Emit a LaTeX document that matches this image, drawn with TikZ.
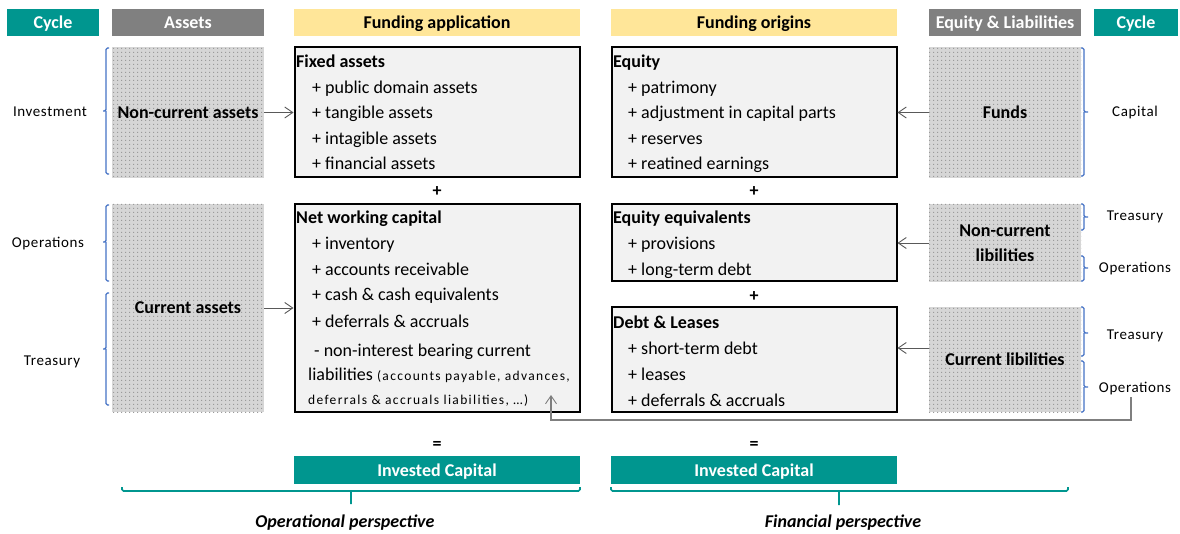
\documentclass[tikz,border=0pt]{standalone}
\usepackage{fontspec}
\setmainfont{Carlito}
\usetikzlibrary{patterns.meta,arrows.meta}

\definecolor{cycteal}{RGB}{0,150,143}
\definecolor{hdrgrey}{RGB}{128,128,128}
\definecolor{hdryellow}{RGB}{255,230,153}
\definecolor{boxfill}{RGB}{242,242,242}
\definecolor{dotbg}{RGB}{214,214,214}
\definecolor{dotfg}{RGB}{155,155,155}
\definecolor{bracblue}{RGB}{68,114,196}
\definecolor{arrgrey}{RGB}{89,89,89}
\definecolor{elbgrey}{RGB}{127,127,127}

% fine dot raster for the balance-sheet blocks
\tikzdeclarepattern{
  name=finedots,
  type=uncolored,
  bottom left={(0pt,0pt)},
  top right={(4pt,4pt)},
  tile size={(4pt,4pt)},
  code={\pgfpathrectangle{\pgfpoint{1.5pt}{1.5pt}}{\pgfpoint{1pt}{1pt}}\pgfusepath{fill}}
}

\newcommand\mainsize{\fontsize{18}{21}\selectfont}
\newcommand\notesize{\fontsize{13.5}{16}\selectfont\addfontfeatures{LetterSpace=10}}

\tikzset{
  hdr/.style={inner sep=0pt, minimum height=27pt, text height=13pt, text depth=1pt, font=\mainsize\bfseries},
  hdrteal/.style={hdr, fill=cycteal, text=white},
  hdrgray/.style={hdr, fill=hdrgrey, text=white},
  hdrgold/.style={hdr, fill=hdryellow, text=black},
  dotblock/.style={inner sep=0pt, preaction={fill=dotbg}, pattern=finedots, pattern color=dotfg,
    align=center, font=\mainsize\bfseries},
  fundbox/.style={draw=black, line width=2pt, fill=boxfill, inner sep=0pt, minimum width=285pt},
  title/.style={anchor=west, inner sep=0pt, text height=13pt, text depth=1pt, font=\mainsize\bfseries},
  item/.style={anchor=west, inner sep=0pt, text height=13pt, text depth=1pt, font=\mainsize},
  note/.style={font=\notesize},
  cyc/.style={inner sep=1pt, text height=11pt, text depth=1pt, font=\fontsize{15}{18}\selectfont\addfontfeatures{LetterSpace=4}},
  op/.style={inner sep=0pt, font=\mainsize\bfseries},
  brc/.style={draw=bracblue, line width=1.1pt, rounded corners=1.5pt},
  tbrc/.style={draw=cycteal, line width=1.6pt, rounded corners=1.5pt},
  arr/.style={draw=arrgrey, line width=0.9pt, -{Straight Barb[length=8pt,width=11pt]}},
  elbow/.style={draw=elbgrey, line width=1.6pt, -{Straight Barb[length=8pt,width=11pt,line width=0.9pt]}},
  persp/.style={inner sep=0pt, text height=13pt, text depth=1pt, font=\mainsize\bfseries\itshape},
}

\begin{document}
\begin{tikzpicture}[x=1pt,y=-1pt]
\useasboundingbox (0,0) rectangle (1180,534);

% column headers
\node[hdrteal, minimum width=92pt]  (hcl) at (53,22.5)    {Cycle};
\node[hdrgray, minimum width=152pt] (has) at (188,22.5)   {Assets};
\node[hdrgold, minimum width=286pt] (hfa) at (437,22.5)   {Funding application};
\node[hdrgold, minimum width=286pt] (hfo) at (754,22.5)   {Funding origins};
\node[hdrgray, minimum width=152pt] (hel) at (1005,22.5)  {Equity \& Liabilities};
\node[hdrteal, minimum width=84pt]  (hcr) at (1136,22.5)  {Cycle};

% asset blocks
\node[dotblock, minimum width=152pt, minimum height=131pt] (nca) at (188,112.5) {Non-current assets};
\node[dotblock, minimum width=152pt, minimum height=208pt] (ca)  at (188,308)   {Current assets};

% equity and liability blocks
\node[dotblock, minimum width=152pt, minimum height=131pt] (fund) at (1005,112.5) {Funds};
\node[dotblock, minimum width=152pt, minimum height=78pt]  (ncl)  at (1005,243)   {Non-current\\[4pt]libilities};
\node[dotblock, minimum width=152pt, minimum height=105pt] (cl)   at (1005,359.5) {Current libilities};

% funding application
\node[fundbox, minimum height=130pt] (fa)  at (437,112.5) {};
\node[fundbox, minimum height=207pt] (nwc) at (437,308)   {};
% funding origins
\node[fundbox, minimum height=130pt] (eq)  at (754,112.5) {};
\node[fundbox, minimum height=77pt]  (eqe) at (754,243)   {};
\node[fundbox, minimum height=104pt] (dl)  at (754,359.5) {};

% fixed assets
\node[title] (faT) at (296,62)  {Fixed assets};
\node[item]  (fa1) at (312,88)  {+ public domain assets};
\node[item]  (fa2) at (312,113) {+ tangible assets};
\node[item]  (fa3) at (312,139) {+ intagible assets};
\node[item]  (fa4) at (312,164) {+ financial assets};

% net working capital
\node[title] (nwT) at (296,218) {Net working capital};
\node[item]  (nw1) at (312,244) {+ inventory};
\node[item]  (nw2) at (312,270) {+ accounts receivable};
\node[item]  (nw3) at (312,295) {+ cash \& cash equivalents};
\node[item]  (nw4) at (312,322) {+ deferrals \& accruals};
\node[item]  (nw5) at (314,350) {- non-interest bearing current};
\node[item]  (nw6) at (308,375) {liabilities {\notesize(accounts payable, advances,}};
\node[item, note] (nw7) at (308,398) {deferrals \& accruals liabilities, …)};

% equity
\node[title] (eqT) at (613,62)  {Equity};
\node[item]  (eq1) at (628,88)  {+ patrimony};
\node[item]  (eq2) at (628,113) {+ adjustment in capital parts};
\node[item]  (eq3) at (628,139) {+ reserves};
\node[item]  (eq4) at (628,164) {+ reatined earnings};

% equity equivalents
\node[title] (eeT) at (613,218) {Equity equivalents};
\node[item]  (ee1) at (628,244) {+ provisions};
\node[item]  (ee2) at (628,270) {+ long-term debt};

% debt and leases
\node[title] (dlT) at (613,323) {Debt \& Leases};
\node[item]  (dl1) at (628,348) {+ short-term debt};
\node[item]  (dl2) at (628,374) {+ leases};
\node[item]  (dl3) at (628,400) {+ deferrals \& accruals};

% operators between the blocks
\node[op] (pl1) at (437,192) {+};
\node[op] (pl2) at (754,192) {+};
\node[op] (pl3) at (754,297) {+};
\node[op] (eq5) at (437,445) {=};
\node[op] (eq6) at (754,445) {=};

% totals
\node[hdrteal, minimum width=286pt, minimum height=28pt] (ic1) at (437,470) {Invested Capital};
\node[hdrteal, minimum width=286pt, minimum height=28pt] (ic2) at (754,470) {Invested Capital};

% cycle labels, left
\node[cyc] (cyInv) at (50,112)  {Investment};
\node[cyc] (cyOp)  at (48,243)  {Operations};
\node[cyc] (cyTr)  at (52,361)  {Treasury};
% cycle labels, right
\node[cyc] (cyCap) at (1135,112) {Capital};
\node[cyc] (cyTr1) at (1135,216) {Treasury};
\node[cyc] (cyOp1) at (1135,268) {Operations};
\node[cyc] (cyTr2) at (1135,335) {Treasury};
\node[cyc] (cyOp2) at (1135,387) {Operations};

% brackets, left
\draw[brc] (109,48) -| (106,111) -- (103,111) (106,111) |- (109,174);
\draw[brc] (109,205) -| (106,242) -- (103,242) (106,242) |- (109,281);
\draw[brc] (109,293) -| (106,349) -- (103,349) (106,349) |- (109,405);
% brackets, right
\draw[brc] (1081,48) -| (1084,112) -- (1088,112) (1084,112) |- (1081,176);
\draw[brc] (1081,204) -| (1084,217) -- (1088,217) (1084,217) |- (1081,230);
\draw[brc] (1081,256) -| (1084,268) -- (1088,268) (1084,268) |- (1081,281);
\draw[brc] (1081,307) -| (1084,333) -- (1088,333) (1084,333) |- (1081,356);
\draw[brc] (1081,361) -| (1084,387) -- (1088,387) (1084,387) |- (1081,412);

% flows into the funding boxes
\draw[arr] (nca) -- (fa);
\draw[arr] (ca) -- (nwc);
\draw[arr] (fund) -- (eq);
\draw[arr] (ncl) -- (eqe);
\draw[arr] ([yshift=11.5pt]cl.west) -- ([yshift=11.5pt]dl.east);

% operating liabilities netted in working capital
\coordinate (elbowturn) at (551,420);
\coordinate (nwctip) at (551,395);
\draw[elbow] ([xshift=-4pt,yshift=-3pt]cyOp2.south) |- (elbowturn) -- (nwctip);

% perspective brackets
\draw[tbrc] (122,487) |- (351,491) -| (580,487) (351,491) -- (351,504);
\draw[tbrc] (611,487) |- (839,491) -| (1068,487) (839,491) -- (839,505);
\node[persp] (pOp) at (345,521) {Operational perspective};
\node[persp] (pFi) at (843,521) {Financial perspective};
\end{tikzpicture}
\end{document}
